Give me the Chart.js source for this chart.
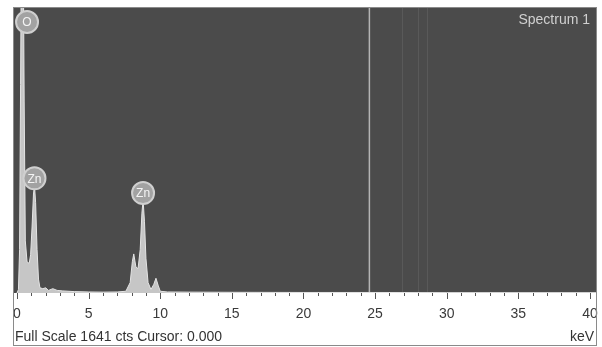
<!DOCTYPE html>
<html><head><meta charset="utf-8">
<script src="https://cdn.jsdelivr.net/npm/chart.js@4.4.1/dist/chart.umd.min.js"></script>
<style>html,body{margin:0;padding:0;background:#fff;overflow:hidden;}</style>
</head><body>
<canvas id="c" width="602" height="347" style="display:block;width:602px;height:347px"></canvas>
<script>
// Spectrum data (energy in keV, counts)
const energies = [0.0, 0.1, 0.18, 0.25, 0.32, 0.42, 0.5, 0.58, 0.7, 0.85, 0.95, 1.05, 1.15, 1.22, 1.3, 1.4, 1.5, 1.6, 1.8, 2.0, 2.2, 2.5, 2.8, 3.2, 4.0, 5.0, 6.0, 7.0, 7.6, 7.9, 8.05, 8.15, 8.3, 8.45, 8.6, 8.72, 8.8, 8.9, 9.0, 9.15, 9.35, 9.55, 9.7, 9.85, 10.0, 10.5, 12.0, 15.0, 20.0, 25.0, 30.0, 35.0, 40.0, 40.42];
const counts   = [0, 20, 250, 1200, 2200, 2200, 1100, 300, 180, 170, 220, 380, 570, 620, 520, 250, 80, 30, 25, 30, 15, 25, 15, 12, 8, 6, 5, 6, 10, 60, 180, 225, 150, 140, 250, 460, 535, 410, 200, 60, 20, 50, 85, 45, 10, 6, 5, 4, 3, 3, 2, 2, 2, 2];
const xTickValues = [0, 5, 10, 15, 20, 25, 30, 35, 40];
const minorTickValues = [0,1,2,3,4,5,6,7,8,9,10,11,12,13,14,15,16,17,18,19,20,21,22,23,24,25,26,27,28,29,30,31,32,33,34,35,36,37,38,39,40];
const peakLabels = ['O', 'Zn', 'Zn'];
const peakLabelEnergies = [0.7, 1.22, 8.8];
const peakLabelCounts = [2200, 620, 535];
const artifactEnergies = [24.6];
const faintArtifactEnergies = [26.9, 28.0, 28.6];
const fullScaleCounts = 1641;
const spectrumName = 'Spectrum 1';
const footerText = 'Full Scale 1641 cts Cursor: 0.000';
const unitLabel = 'keV';

const FONT = '"Liberation Sans", Arial, sans-serif';

const spectrumPoints = energies.map((e, i) => ({x: e, y: counts[i]}));

const decor = {
  id: 'decor',
  beforeDraw(chart) {
    const {ctx, chartArea: a} = chart;
    ctx.save();
    ctx.fillStyle = '#ffffff';
    ctx.fillRect(0, 0, chart.width, chart.height);
    ctx.fillStyle = '#4b4b4b';
    ctx.fillRect(a.left, a.top, a.right - a.left, a.bottom - a.top);
    ctx.restore();
  },
  beforeDatasetsDraw(chart) {
    const {ctx, chartArea: a, scales: {x}} = chart;
    ctx.save();
    ctx.strokeStyle = 'rgba(255,255,255,0.08)';
    ctx.lineWidth = 1;
    faintArtifactEnergies.forEach(e => {
      const px = Math.round(x.getPixelForValue(e)) + 0.5;
      ctx.beginPath(); ctx.moveTo(px, a.top); ctx.lineTo(px, a.bottom); ctx.stroke();
    });
    ctx.strokeStyle = '#b4b4b4';
    ctx.lineWidth = 1.5;
    artifactEnergies.forEach(e => {
      const px = x.getPixelForValue(e);
      ctx.beginPath(); ctx.moveTo(px, a.top); ctx.lineTo(px, a.bottom); ctx.stroke();
    });
    ctx.restore();
  },
  afterDatasetsDraw(chart) {
    const {ctx, chartArea: a, scales: {x, y}} = chart;
    ctx.save();
    peakLabels.forEach((t, i) => {
      const cx = x.getPixelForValue(peakLabelEnergies[i]);
      const cy = Math.max(a.top + 14, y.getPixelForValue(peakLabelCounts[i]) - 7);
      ctx.beginPath();
      ctx.arc(cx, cy, 11, 0, Math.PI * 2);
      ctx.fillStyle = '#a2a2a2';
      ctx.fill();
      ctx.lineWidth = 2;
      ctx.strokeStyle = '#cfcfcf';
      ctx.stroke();
      ctx.fillStyle = '#f4f4f4';
      ctx.font = '12px ' + FONT;
      ctx.textAlign = 'center';
      ctx.textBaseline = 'middle';
      ctx.fillText(t, cx, cy + 1);
    });
    ctx.fillStyle = '#d0d0d0';
    ctx.font = '14px ' + FONT;
    ctx.textAlign = 'right';
    ctx.textBaseline = 'alphabetic';
    ctx.fillText(spectrumName, a.right - 6, a.top + 16);
    ctx.restore();
  },
  afterDraw(chart) {
    const {ctx, chartArea: a, scales: {x}} = chart;
    ctx.save();
    ctx.strokeStyle = '#555';
    ctx.lineWidth = 1;
    minorTickValues.forEach(v => {
      const px = Math.round(x.getPixelForValue(v)) + 0.5;
      const len = v % 5 === 0 ? 6 : 3;
      ctx.beginPath(); ctx.moveTo(px, a.bottom); ctx.lineTo(px, a.bottom + len); ctx.stroke();
    });
    ctx.fillStyle = '#333';
    ctx.font = '14px ' + FONT;
    ctx.textBaseline = 'alphabetic';
    ctx.textAlign = 'left';
    ctx.fillText(footerText, a.left + 1, 341);
    ctx.textAlign = 'right';
    ctx.fillText(unitLabel, a.right - 2, 341);
    ctx.strokeStyle = '#8a8a8a';
    ctx.lineWidth = 1;
    ctx.strokeRect(a.left - 0.5, a.top - 0.5, a.right - a.left + 1, 345 - a.top + 1);
    ctx.restore();
  }
};

new Chart(document.getElementById('c'), {
  type: 'line',
  data: {
    datasets: [{
      label: spectrumName,
      data: spectrumPoints,
      borderColor: '#e4e4e4',
      backgroundColor: '#c6c6c6',
      borderWidth: 1,
      fill: 'origin',
      pointRadius: 0,
      tension: 0
    }]
  },
  options: {
    responsive: false,
    animation: false,
    devicePixelRatio: 1,
    layout: {padding: {left: 14, right: 6, top: 8, bottom: 0}},
    plugins: {legend: {display: false}, tooltip: {enabled: false}},
    scales: {
      x: {
        type: 'linear',
        min: -0.21,
        max: 40.42,
        afterBuildTicks: s => { s.ticks = xTickValues.map(v => ({value: v})); },
        afterFit: s => { s.height = 54; s.paddingLeft = 0; s.paddingRight = 0; },
        grid: {display: false, drawTicks: false},
        border: {display: false},
        ticks: {
          autoSkip: false, maxRotation: 0, padding: 13,
          color: '#3a3a3a',
          font: {size: 14, family: FONT},
          callback: v => String(v)
        }
      },
      y: {
        display: false,
        min: 0,
        max: fullScaleCounts
      }
    }
  },
  plugins: [decor]
});
</script>
</body></html>
